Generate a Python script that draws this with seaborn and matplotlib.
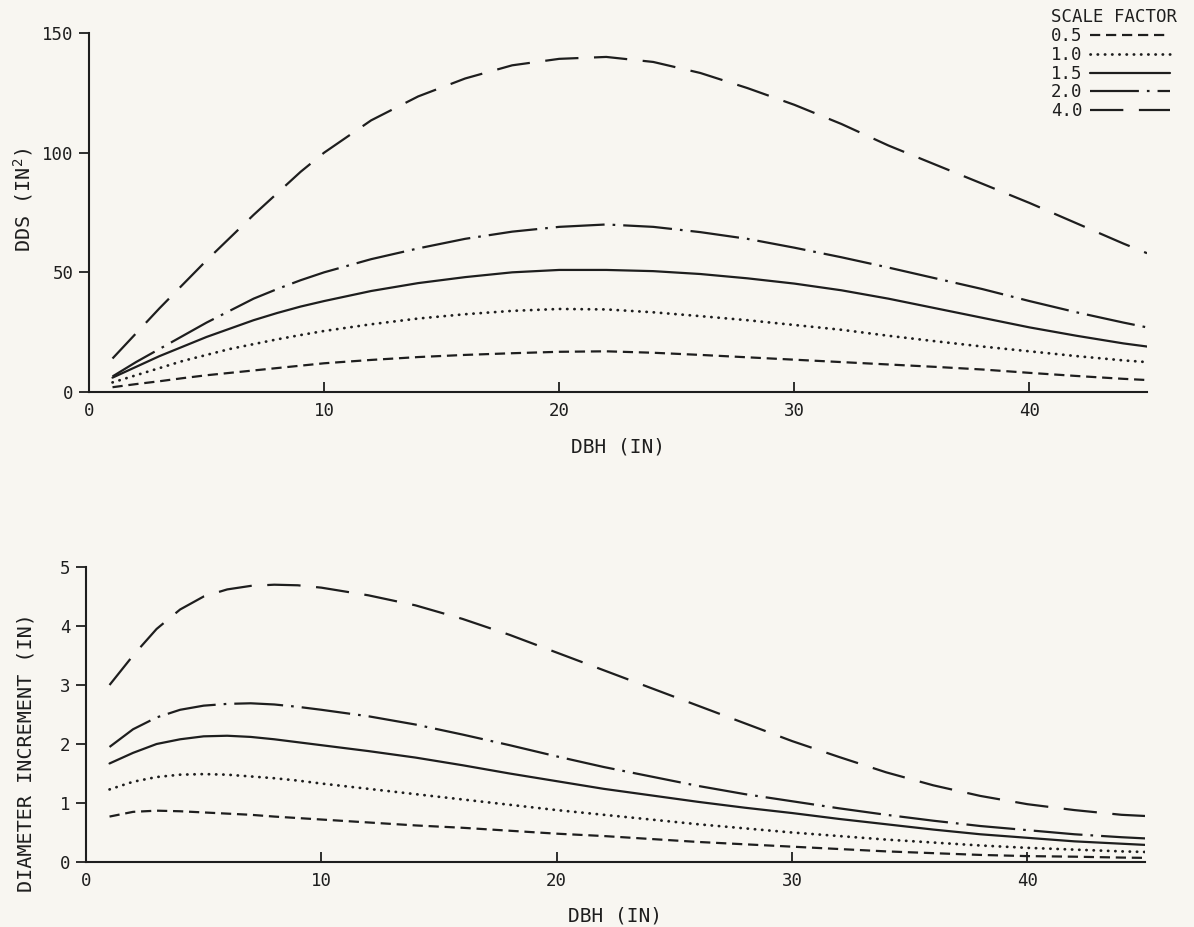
import matplotlib
matplotlib.use("Agg")
import matplotlib.pyplot as plt
from matplotlib.lines import Line2D
import pandas as pd
import seaborn as sns

# ---- data -------------------------------------------------------------
scale_factors = ["0.5", "1.0", "1.5", "2.0", "4.0"]

# shared DBH grid (in.) for both panels
dbh = [1, 2, 3, 4, 5, 6, 7, 8, 9, 10,
       12, 14, 16, 18, 20, 22, 24, 26, 28, 30,
       32, 34, 36, 38, 40, 42, 44, 45]

# upper panel: basal-area growth (DDS, sq. in.)
dds_05 = [2, 3.3, 4.5, 5.8, 7, 8, 9, 10, 11, 12,
          13.4, 14.6, 15.5, 16.2, 16.8, 17, 16.4, 15.5, 14.5, 13.5,
          12.5, 11.5, 10.5, 9.4, 8, 6.7, 5.5, 5]
dds_10 = [4, 7, 10, 13, 15.5, 18, 20, 22, 23.8, 25.5,
          28.3, 30.7, 32.5, 33.9, 34.7, 34.5, 33.3, 31.7, 30, 28,
          26, 23.5, 21.2, 19, 17, 15, 13.2, 12.5]
dds_15 = [6, 10.5, 15, 19, 23, 26.5, 30, 33, 35.7, 38,
          42.2, 45.5, 48, 50, 51, 51, 50.5, 49.3, 47.5, 45.3,
          42.5, 39, 35, 31, 27, 23.5, 20.3, 19]
dds_20 = [6.5, 12.5, 18, 23.5, 29, 34, 39, 43, 46.7, 50,
          55.5, 60, 64, 67, 69, 70, 69, 66.8, 64, 60.3,
          56.3, 52, 47.5, 43, 38, 33.3, 29, 27]
dds_40 = [14, 24.5, 35, 45, 55, 64.5, 74, 83, 92, 100,
          113.5, 123.5, 131, 136.5, 139.2, 140, 137.9, 133.3, 127, 120,
          112, 103, 95, 87, 79, 70.5, 62, 58]

# lower panel: diameter increment (in.)
inc_05 = [0.77, 0.85, 0.87, 0.86, 0.84, 0.82, 0.80, 0.77, 0.745, 0.72,
          0.67, 0.62, 0.58, 0.53, 0.48, 0.44, 0.39, 0.34, 0.30, 0.26,
          0.22, 0.18, 0.15, 0.12, 0.10, 0.09, 0.075, 0.07]
inc_10 = [1.23, 1.36, 1.44, 1.48, 1.49, 1.48, 1.45, 1.42, 1.38, 1.33,
          1.24, 1.15, 1.06, 0.97, 0.88, 0.80, 0.72, 0.64, 0.57, 0.50,
          0.44, 0.38, 0.33, 0.28, 0.24, 0.21, 0.18, 0.17]
inc_15 = [1.67, 1.85, 2.00, 2.08, 2.13, 2.14, 2.12, 2.08, 2.03, 1.98,
          1.88, 1.77, 1.64, 1.50, 1.37, 1.24, 1.13, 1.02, 0.92, 0.83,
          0.73, 0.64, 0.55, 0.47, 0.41, 0.35, 0.31, 0.29]
inc_20 = [1.95, 2.25, 2.45, 2.58, 2.65, 2.68, 2.69, 2.67, 2.63, 2.58,
          2.47, 2.33, 2.16, 1.98, 1.79, 1.61, 1.45, 1.29, 1.15, 1.03,
          0.91, 0.80, 0.70, 0.61, 0.54, 0.47, 0.42, 0.40]
inc_40 = [3.00, 3.50, 3.95, 4.28, 4.50, 4.62, 4.68, 4.70, 4.69, 4.65,
          4.52, 4.35, 4.12, 3.85, 3.55, 3.25, 2.95, 2.65, 2.35, 2.05,
          1.78, 1.52, 1.30, 1.12, 0.98, 0.88, 0.80, 0.78]

x_ticks = [0, 10, 20, 30, 40]
dds_ticks = [0, 50, 100, 150]
inc_ticks = [0, 1, 2, 3, 4, 5]

dds_df = pd.concat([
    pd.DataFrame({"dbh": dbh, "value": v, "scale": s})
    for s, v in zip(scale_factors, [dds_05, dds_10, dds_15, dds_20, dds_40])
])
inc_df = pd.concat([
    pd.DataFrame({"dbh": dbh, "value": v, "scale": s})
    for s, v in zip(scale_factors, [inc_05, inc_10, inc_15, inc_20, inc_40])
])

# ---- styling ----------------------------------------------------------
PAPER = "#f8f6f1"
INK = "#1e1e1e"

sns.set_theme(style="ticks")
plt.rcParams["font.family"] = ["DejaVu Sans Mono", "DejaVu Sans"]
plt.rcParams["mathtext.default"] = "regular"
plt.rcParams["text.color"] = INK
plt.rcParams["axes.labelcolor"] = INK
plt.rcParams["xtick.color"] = INK
plt.rcParams["ytick.color"] = INK

line_styles = {
    "0.5": dict(lw=1.6, linestyle=(0, (4.6, 2.6))),
    "1.0": dict(lw=2.0, linestyle=(0, (0.1, 2.5)), dash_capstyle="round"),
    "1.5": dict(lw=1.6, linestyle="-"),
    "2.0": dict(lw=1.6, linestyle=(0, (22, 3.6, 1.2, 3.6))),
    "4.0": dict(lw=1.6, linestyle=(0, (15, 7))),
}

W, H = 1194, 927
fig = plt.figure(figsize=(W / 100, H / 100), dpi=100, facecolor=PAPER)


def axes_from_px(left, top, right, bottom):
    return fig.add_axes([left / W, 1 - bottom / H, (right - left) / W, (bottom - top) / H])


ax_top = axes_from_px(89, 33, 1147, 392)
ax_bot = axes_from_px(86, 567, 1145, 862)

for ax, df in ((ax_top, dds_df), (ax_bot, inc_df)):
    ax.set_facecolor(PAPER)
    for s in scale_factors:
        sns.lineplot(data=df[df["scale"] == s], x="dbh", y="value", ax=ax,
                     color=INK, sort=False, estimator=None, legend=False,
                     **line_styles[s])
    ax.set_xlim(0, 45)
    ax.set_xticks(x_ticks)
    ax.set_xticklabels([str(t) for t in x_ticks])
    for side in ("top", "right"):
        ax.spines[side].set_visible(False)
    for side in ("left", "bottom"):
        ax.spines[side].set_color(INK)
        ax.spines[side].set_linewidth(1.5)
    ax.tick_params(axis="x", direction="in", length=7, width=1.3, pad=7, labelsize=12.5)
    ax.tick_params(axis="y", direction="out", length=7, width=1.3, pad=4, labelsize=12.5)

ax_top.set_ylim(0, 150)
ax_top.set_yticks(dds_ticks)
ax_top.set_yticklabels([str(t) for t in dds_ticks])
ax_bot.set_ylim(0, 5)
ax_bot.set_yticks(inc_ticks)
ax_bot.set_yticklabels([str(t) for t in inc_ticks])

ax_top.set_xlabel("DBH (IN)", fontsize=14)
ax_top.xaxis.set_label_coords(0.5, -46 / 359)
ax_top.set_ylabel("DDS (IN$^2$)", fontsize=14.5)
ax_top.yaxis.set_label_coords(-0.051, 0.535)

ax_bot.set_xlabel("DBH (IN)", fontsize=14)
ax_bot.xaxis.set_label_coords(0.5, -45 / 295)
ax_bot.set_ylabel("DIAMETER INCREMENT (IN)", fontsize=14.5)
ax_bot.yaxis.set_label_coords(-0.048, 0.37)

handles = [Line2D([], [], color=INK, **line_styles[s]) for s in scale_factors]
fig.legend(handles, scale_factors, title="SCALE FACTOR",
           loc="upper right", bbox_to_anchor=(1177 / W, 1 - 8 / H),
           frameon=False, markerfirst=False, handlelength=4.6,
           handletextpad=0.45, labelspacing=0.05, borderpad=0,
           borderaxespad=0, fontsize=12.5, title_fontsize=12.5, alignment="left")

fig.savefig("out.png", dpi=100, facecolor=PAPER)
